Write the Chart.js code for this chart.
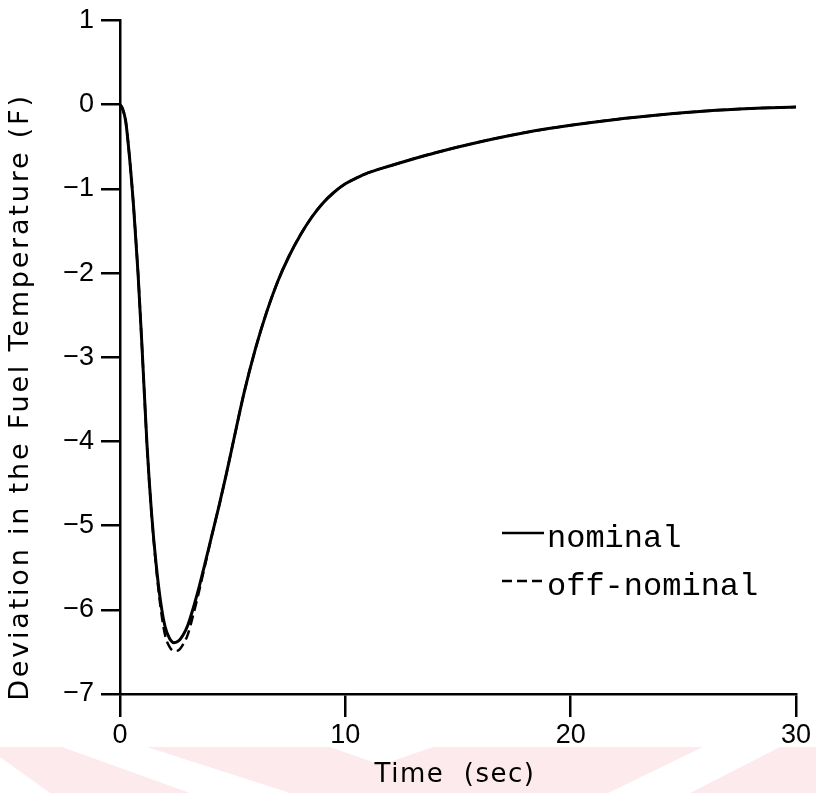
<!DOCTYPE html>
<html>
<head>
<meta charset="utf-8">
<script src="https://cdn.jsdelivr.net/npm/chart.js@4.4.1/dist/chart.umd.min.js"></script>
<style>
  html, body { margin: 0; padding: 0; background: #fff; }
  canvas { display: block; }
</style>
</head>
<body>
<canvas id="chart" width="816" height="793"></canvas>
<script>
// time axis (sec) shared by both runs
const times = [0, 0.1, 0.25, 0.4, 0.6, 0.8, 1.0, 1.2, 1.4, 1.6, 1.8, 2.0, 2.2, 2.4, 2.6, 2.8, 3.0,
  3.25, 3.5, 3.8, 4.1, 4.4, 4.7, 5.0, 5.5, 6.0, 6.5, 7.0, 7.5, 8.0, 8.5, 9.0, 9.5, 10, 10.5,
  11, 12, 13, 14, 16, 18, 20, 22, 24, 26, 28, 30];

// fuel temperature deviation (F)
const nominal = [0, -0.04, -0.19, -0.56, -1.2, -2.0, -3.0, -4.05, -4.85, -5.45, -5.9, -6.2, -6.34, -6.39, -6.37, -6.3, -6.19,
  -5.98, -5.74, -5.42, -5.09, -4.76, -4.41, -4.04, -3.43, -2.91, -2.47, -2.1, -1.8, -1.55, -1.34, -1.17, -1.04, -0.94, -0.87,
  -0.81, -0.725, -0.645, -0.57, -0.44, -0.33, -0.245, -0.175, -0.12, -0.075, -0.045, -0.027];

const offNominal = [0, -0.04, -0.19, -0.56, -1.2, -2.0, -3.0, -4.05, -4.86, -5.48, -5.97, -6.3, -6.44, -6.49, -6.48, -6.41, -6.3,
  -6.06, -5.79, -5.44, -5.09, -4.76, -4.41, -4.04, -3.43, -2.91, -2.47, -2.1, -1.8, -1.55, -1.34, -1.17, -1.04, -0.94, -0.87,
  -0.81, -0.725, -0.645, -0.57, -0.44, -0.33, -0.245, -0.175, -0.12, -0.075, -0.045, -0.027];

const seriesNames = ['nominal', 'off-nominal'];
const xTicks = [0, 10, 20, 30];
const yTicks = [1, 0, -1, -2, -3, -4, -5, -6, -7];
const xTitle = 'Time  (sec)';
const yTitle = 'Deviation in the Fuel Temperature (F)';

const toPoints = (ys) => times.map((t, i) => ({ x: t, y: ys[i] }));
const minus = (v) => (v < 0 ? '\u2212' + Math.abs(v) : String(v));

// white page with the faint pink band along the bottom edge
const pageBackground = {
  id: 'pageBackground',
  beforeDraw(chart) {
    const ctx = chart.ctx;
    ctx.save();
    ctx.fillStyle = '#fff';
    ctx.fillRect(0, 0, chart.width, chart.height);
    ctx.fillStyle = 'rgb(253, 234, 237)';
    const shapes = [
      [[0, 747], [62, 747], [190, 793], [50, 793], [0, 757]],
      [[147, 747], [330, 747], [381, 765], [433, 747], [703, 747], [608, 793], [290, 793]],
      [[780, 747], [816, 747], [816, 793], [690, 793]]
    ];
    shapes.forEach(pts => {
      ctx.beginPath();
      pts.forEach(([x, y], i) => (i ? ctx.lineTo(x, y) : ctx.moveTo(x, y)));
      ctx.closePath();
      ctx.fill();
    });
    ctx.restore();
  }
};

// axis titles and the legend, drawn by hand
const annotations = {
  id: 'annotations',
  afterDraw(chart) {
    const ctx = chart.ctx;
    const area = chart.chartArea;
    ctx.save();
    ctx.fillStyle = '#000';

    ctx.font = '26px "DejaVu Sans", sans-serif';
    ctx.textAlign = 'center';
    ctx.textBaseline = 'alphabetic';
    ctx.letterSpacing = '1.5px';
    ctx.fillText(xTitle, 455, 782);

    ctx.save();
    ctx.translate(28, 397);
    ctx.rotate(-Math.PI / 2);
    ctx.font = '27px "DejaVu Sans", sans-serif';
    ctx.letterSpacing = '2.8px';
    ctx.fillText(yTitle, 0, 0);
    ctx.restore();

    // legend
    ctx.letterSpacing = '0px';
    ctx.font = '32px "Liberation Mono", "Courier New", monospace';
    ctx.textAlign = 'left';
    const rows = [{ y: 547, lineY: 533 }, { y: 595, lineY: 581 }];
    chart.data.datasets.forEach((ds, i) => {
      const r = rows[i];
      ctx.strokeStyle = '#000';
      ctx.lineWidth = 2.5;
      ctx.setLineDash(ds.borderDash || []);
      ctx.beginPath();
      ctx.moveTo(502, r.lineY);
      ctx.lineTo(544, r.lineY);
      ctx.stroke();
      ctx.setLineDash([]);
      ctx.fillText(ds.label, 547, r.y);
    });
    ctx.restore();
  }
};

new Chart(document.getElementById('chart'), {
  type: 'line',
  data: {
    datasets: [
      {
        label: seriesNames[0],
        data: toPoints(nominal),
        borderColor: '#000',
        borderWidth: 3,
        pointRadius: 0,
        cubicInterpolationMode: 'monotone',
        fill: false
      },
      {
        label: seriesNames[1],
        data: toPoints(offNominal),
        borderColor: '#000',
        borderWidth: 2.5,
        borderDash: [10, 5],
        pointRadius: 0,
        cubicInterpolationMode: 'monotone',
        fill: false
      }
    ]
  },
  options: {
    responsive: false,
    devicePixelRatio: 1,
    animation: false,
    layout: { padding: { top: 15, right: 18, left: 0, bottom: 0 } },
    plugins: {
      legend: { display: false },
      tooltip: { enabled: false }
    },
    scales: {
      x: {
        type: 'linear',
        min: 0,
        max: 30,
        afterFit: (scale) => { scale.height = 99; },
        afterBuildTicks: (scale) => { scale.ticks = xTicks.map(v => ({ value: v })); },
        border: { display: true, color: '#000', width: 2.5 },
        grid: { drawOnChartArea: false, drawTicks: true, tickLength: 23, color: '#000', lineWidth: 2.5 },
        ticks: {
          color: '#000',
          padding: 5,
          maxRotation: 0,
          font: { family: '"Liberation Sans", Arial, sans-serif', size: 27, lineHeight: 1 },
          callback: (v) => minus(v)
        }
      },
      y: {
        type: 'linear',
        min: -7,
        max: 1,
        afterFit: (scale) => { scale.width = 120; },
        afterBuildTicks: (scale) => { scale.ticks = yTicks.map(v => ({ value: v })); },
        border: { display: true, color: '#000', width: 2.5 },
        grid: { drawOnChartArea: false, drawTicks: true, tickLength: 19, color: '#000', lineWidth: 2.5 },
        ticks: {
          color: '#000',
          padding: 7,
          font: { family: '"Liberation Sans", Arial, sans-serif', size: 27, lineHeight: 1 },
          callback: (v) => minus(v)
        }
      }
    }
  },
  plugins: [pageBackground, annotations]
});
</script>
</body>
</html>
